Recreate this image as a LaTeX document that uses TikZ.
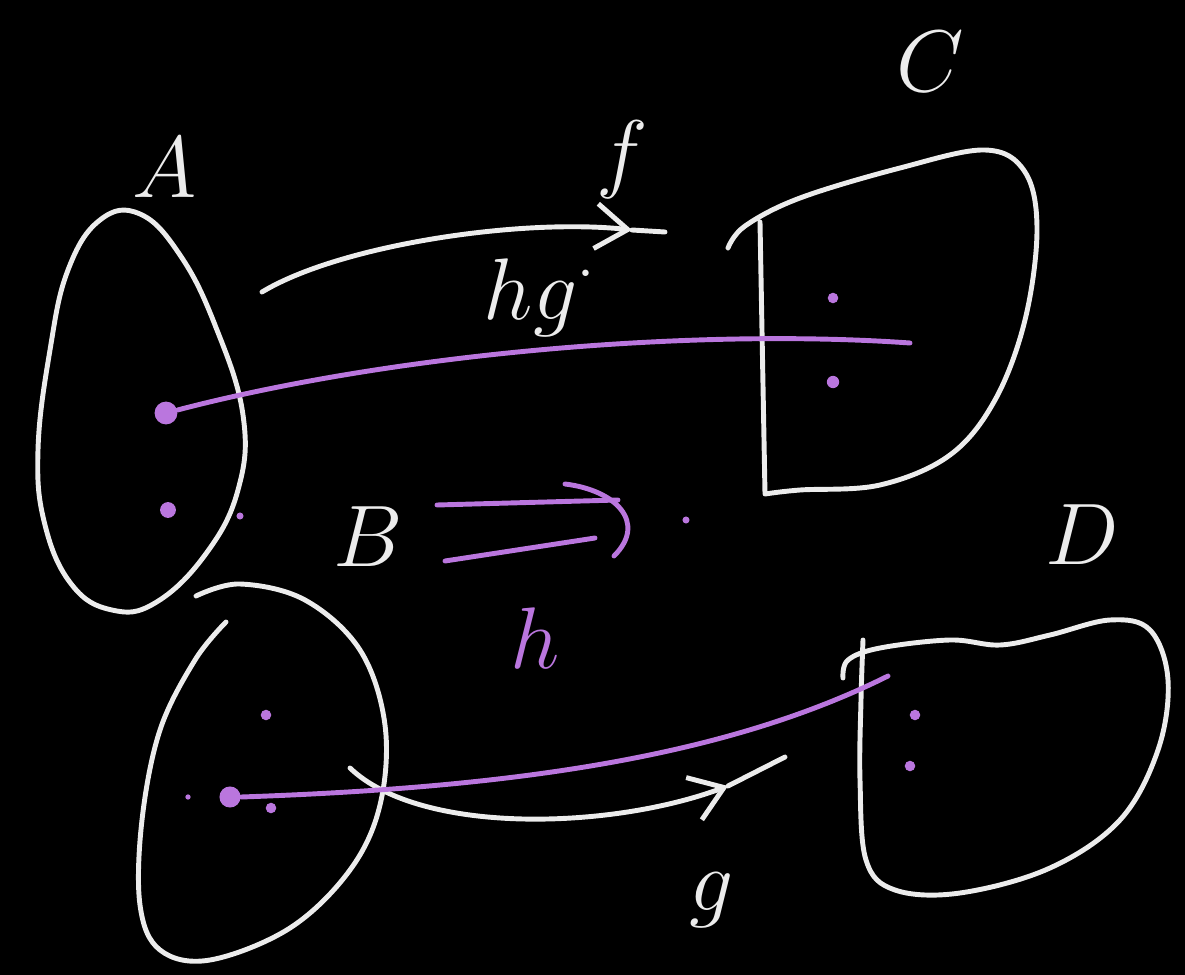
\documentclass[tikz,border=0pt]{standalone}
\usetikzlibrary{arrows.meta,positioning}
\definecolor{chalk}{RGB}{236,236,236}
\definecolor{lilac}{RGB}{186,118,222}

\begin{document}
\begin{tikzpicture}[x=0.1mm,y=-0.1mm,
    pen/.style={draw=chalk,line width=1.4pt,line cap=round,line join=round},
    ink/.style={draw=lilac,line width=1.4pt,line cap=round,line join=round},
    lbl/.style={text=chalk,font=\fontsize{24}{28}\selectfont},
    spot/.style={circle,fill=lilac,inner sep=0pt,minimum size=#1}]
  \fill[black] (0,0) rectangle (1185,975);
  % the four sets
  \draw[pen] plot[smooth cycle,tension=0.7] coordinates {(100,220) (140,214) (180,255) (215,325) (243,415)
    (238,490) (205,555) (155,603) (112,610) (72,585) (45,525) (38,450) (50,350) (68,270)};
  \draw[pen] plot[smooth,tension=0.6] coordinates {(728,248) (745,226) (800,198) (900,168) (985,150)
    (1025,172) (1037,230) (1025,320) (995,400) (950,455) (880,485) (800,490) (765,494)} -- (760,222);
  \draw[pen] plot[smooth,tension=0.6] coordinates {(196,596) (240,584) (305,600) (360,650) (385,725)
    (380,805) (350,870) (290,928) (210,960) (160,950) (140,905) (142,820) (160,730) (195,660) (226,622)};
  \draw[pen] plot[smooth,tension=0.6] coordinates {(843,678) (848,660) (880,648) (950,640) (1000,645)
    (1050,635) (1110,620) (1150,630) (1168,680) (1158,750) (1120,820) (1050,868) (960,893) (895,890)
    (866,860) (860,780) (861,700) (863,640)};
  % set names
  \node[lbl] (nA) at (165,168) {$A$};
  \node[lbl] (nB) at (368,537) {$B$};
  \node[lbl] (nC) at (930,62) {$C$};
  \node[lbl] (nD) at (1082,535) {$D$};
  % elements
  \node[spot=6.5pt] (a1) at (166,413) {};
  \node[spot=4.5pt] (a2) at (168,510) {};
  \node[spot=2pt] (a3) at (240,516) {};
  \node[spot=3pt] (c1) at (833,298) {};
  \node[spot=3.5pt] (c2) at (833,382) {};
  \node[spot=6pt] (b1) at (230,797) {};
  \node[spot=3pt] (b2) at (266,715) {};
  \node[spot=3pt] (b3) at (271,808) {};
  \node[spot=1.5pt] (b4) at (188,797) {};
  \node[spot=3pt] (d1) at (915,715) {};
  \node[spot=3pt] (d2) at (910,766) {};
  \node[spot=2pt] (hdot) at (686,520) {};
  % maps
  \coordinate (f0) at (262,292);
  \coordinate (f1) at (632,230);
  \coordinate (f2) at (665,232);
  \draw[pen,-{Straight Barb[length=3.2mm,width=4.5mm]}] (f0) .. controls (340,245) and (520,218) .. (f1);
  \draw[pen] (f1) -- (f2);
  \node[lbl] (nf) at (622,160) {$f$};
  \coordinate (g0) at (350,768);
  \coordinate (g1) at (728,786);
  \coordinate (g2) at (785,757);
  \draw[pen,-{Straight Barb[length=3.2mm,width=4.5mm]}] (g0) .. controls (420,835) and (610,830) .. (g1);
  \draw[pen] (g1) -- (g2);
  \node[lbl] (ng) at (712,900) {$g$};
  \coordinate (e1) at (910,343);
  \draw[ink] (a1) .. controls (400,352) and (700,328) .. (e1);
  \node[lbl] (nhg) at (540,298) {$hg^{\cdot}$};
  \coordinate (e2) at (888,676);
  \draw[ink] (b1.east) .. controls (500,788) and (720,760) .. (e2);
  % the double arrow h
  \coordinate (hu0) at (437,505);
  \coordinate (hu1) at (618,500);
  \coordinate (hl0) at (445,561);
  \coordinate (hl1) at (595,538);
  \coordinate (ht0) at (565,484);
  \coordinate (ht1) at (614,556);
  \draw[ink] (hu0) -- (hu1);
  \draw[ink] (hl0) -- (hl1);
  \draw[ink] (ht0) .. controls (615,490) and (648,522) .. (ht1);
  \node[lbl,text=lilac] (nh) at (535,638) {$h$};
\end{tikzpicture}
\end{document}
